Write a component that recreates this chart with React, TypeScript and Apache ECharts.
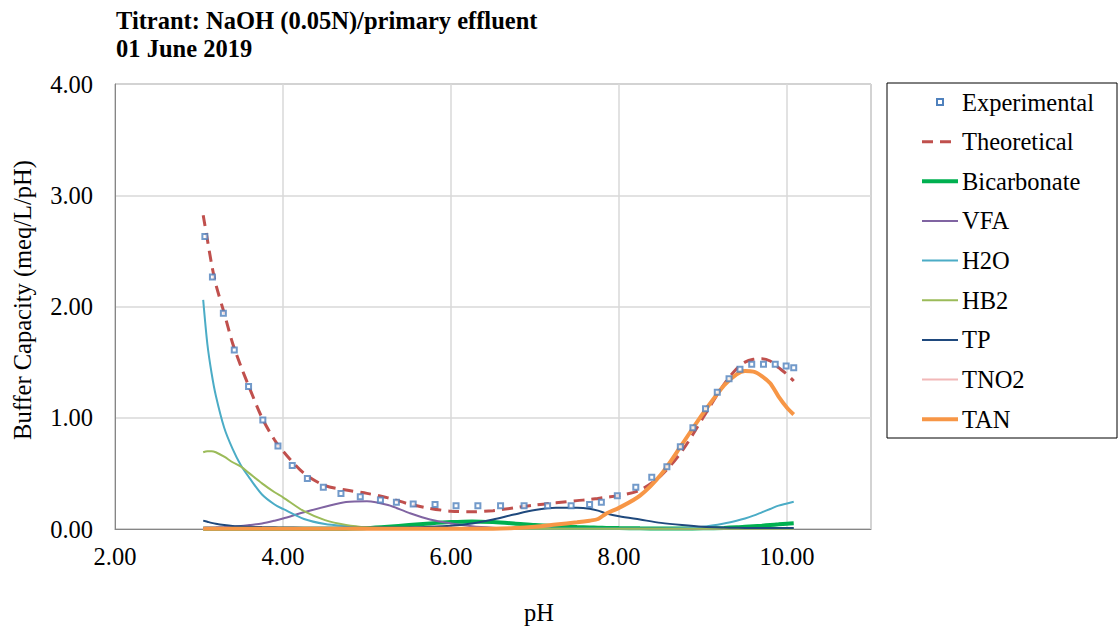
import React, { useEffect, useRef } from "react";
import * as echarts from "echarts";

const titleLines = ["Titrant: NaOH (0.05N)/primary effluent", "01 June 2019"];
const xTicks = [2, 4, 6, 8, 10];
const yTicks = [0, 1, 2, 3, 4];
const xAxisTitle = "pH";
const yAxisTitle = "Buffer Capacity (meq/L/pH)";

const expPH = [3.07, 3.16, 3.29, 3.42, 3.59, 3.76, 3.94, 4.11, 4.29, 4.48, 4.69, 4.92, 5.16, 5.35, 5.55, 5.81, 6.06, 6.32, 6.59, 6.87, 7.15, 7.43, 7.65, 7.79, 7.98, 8.2, 8.39, 8.57, 8.73, 8.88, 9.03, 9.17, 9.31, 9.44, 9.58, 9.72, 9.86, 9.99, 10.08];
const expBC = [2.63, 2.265, 1.94, 1.61, 1.28, 0.98, 0.745, 0.57, 0.455, 0.375, 0.32, 0.29, 0.26, 0.24, 0.225, 0.22, 0.21, 0.21, 0.21, 0.21, 0.21, 0.21, 0.22, 0.24, 0.3, 0.375, 0.465, 0.56, 0.74, 0.91, 1.08, 1.23, 1.35, 1.435, 1.48, 1.48, 1.48, 1.465, 1.45];

const curvePH = [3.05, 3.1, 3.15, 3.2, 3.3, 3.4, 3.5, 3.6, 3.75, 3.9, 4.0, 4.25, 4.5, 4.75, 5.0, 5.25, 5.5, 5.75, 6.0, 6.25, 6.5, 6.75, 7.0, 7.25, 7.5, 7.65, 7.75, 7.85, 8.0, 8.25, 8.5, 8.75, 9.0, 9.25, 9.4, 9.5, 9.6, 9.7, 9.8, 9.9, 10.0, 10.08];
const theoretical = [2.82, 2.6, 2.38, 2.2, 1.94, 1.67, 1.46, 1.27, 1.0, 0.8, 0.7, 0.5, 0.39, 0.35, 0.32, 0.28, 0.225, 0.185, 0.16, 0.155, 0.165, 0.19, 0.215, 0.235, 0.255, 0.265, 0.275, 0.285, 0.3, 0.35, 0.48, 0.7, 1.0, 1.3, 1.44, 1.5, 1.525, 1.53, 1.51, 1.45, 1.39, 1.33];
const bicarbonate = [0.002, 0.002, 0.002, 0.002, 0.002, 0.002, 0.002, 0.002, 0.002, 0.002, 0.002, 0.002, 0.002, 0.003, 0.008, 0.02, 0.035, 0.05, 0.062, 0.068, 0.062, 0.05, 0.035, 0.025, 0.017, 0.014, 0.012, 0.01, 0.008, 0.006, 0.005, 0.005, 0.006, 0.01, 0.015, 0.02, 0.025, 0.03, 0.036, 0.042, 0.048, 0.052];
const vfa = [0.012, 0.013, 0.014, 0.015, 0.018, 0.022, 0.026, 0.035, 0.05, 0.075, 0.095, 0.15, 0.2, 0.243, 0.25, 0.215, 0.145, 0.085, 0.05, 0.025, 0.012, 0.006, 0.003, 0.002, 0.002, 0.002, 0.002, 0.002, 0.002, 0.002, 0.002, 0.002, 0.002, 0.002, 0.002, 0.002, 0.002, 0.002, 0.002, 0.002, 0.002, 0.002];
const h2o = [2.06, 1.66, 1.4, 1.2, 0.91, 0.72, 0.57, 0.46, 0.31, 0.22, 0.18, 0.09, 0.045, 0.026, 0.012, 0.006, 0.003, 0.002, 0.002, 0.002, 0.002, 0.002, 0.002, 0.002, 0.002, 0.002, 0.002, 0.002, 0.002, 0.002, 0.002, 0.006, 0.02, 0.05, 0.075, 0.095, 0.12, 0.15, 0.18, 0.21, 0.23, 0.245];
const hb2 = [0.69, 0.7, 0.7, 0.69, 0.65, 0.6, 0.56, 0.5, 0.41, 0.33, 0.285, 0.16, 0.08, 0.037, 0.015, 0.008, 0.004, 0.002, 0.002, 0.002, 0.002, 0.002, 0.002, 0.002, 0.002, 0.002, 0.002, 0.002, 0.002, 0.002, 0.002, 0.002, 0.002, 0.002, 0.002, 0.002, 0.002, 0.002, 0.002, 0.002, 0.002, 0.002];
const tp = [0.075, 0.065, 0.055, 0.047, 0.036, 0.028, 0.024, 0.02, 0.017, 0.015, 0.014, 0.012, 0.011, 0.011, 0.012, 0.013, 0.015, 0.02, 0.03, 0.05, 0.085, 0.13, 0.17, 0.19, 0.19, 0.182, 0.165, 0.14, 0.115, 0.085, 0.055, 0.035, 0.02, 0.013, 0.011, 0.01, 0.01, 0.01, 0.01, 0.01, 0.01, 0.01];
const tno2 = [0.001, 0.001, 0.001, 0.001, 0.001, 0.001, 0.001, 0.001, 0.001, 0.001, 0.001, 0.001, 0.001, 0.001, 0.001, 0.001, 0.001, 0.001, 0.001, 0.001, 0.001, 0.001, 0.001, 0.001, 0.001, 0.001, 0.001, 0.001, 0.001, 0.001, 0.001, 0.001, 0.001, 0.001, 0.001, 0.001, 0.001, 0.001, 0.001, 0.001, 0.001, 0.001];
const tan = [0.003, 0.003, 0.003, 0.003, 0.003, 0.003, 0.003, 0.003, 0.003, 0.003, 0.003, 0.003, 0.003, 0.003, 0.003, 0.003, 0.003, 0.003, 0.003, 0.003, 0.003, 0.008, 0.02, 0.04, 0.06, 0.075, 0.09, 0.14, 0.19, 0.3, 0.49, 0.76, 1.04, 1.29, 1.39, 1.42, 1.415, 1.375, 1.31, 1.19, 1.09, 1.03];

const FONT = "'Liberation Serif', 'Times New Roman', serif";
const FS = 24.5;

type Spec = { name: string; color: string; width: number; dash?: number[]; marker?: boolean };
const specs: Spec[] = [
  { name: "Experimental", color: "#4f81bd", width: 2, marker: true },
  { name: "Theoretical", color: "#c0504d", width: 3, dash: [11, 7] },
  { name: "Bicarbonate", color: "#00b050", width: 4 },
  { name: "VFA", color: "#8064a2", width: 2 },
  { name: "H2O", color: "#4bacc6", width: 2 },
  { name: "HB2", color: "#9bbb59", width: 2 },
  { name: "TP", color: "#1f497d", width: 2 },
  { name: "TNO2", color: "#f2b8b8", width: 2 },
  { name: "TAN", color: "#f79646", width: 4 },
];

const pairs = (xs: number[], ys: number[]) => xs.map((x, i) => [x, ys[i]]);

export default function App() {
  const ref = useRef<HTMLDivElement>(null);
  useEffect(() => {
    if (!ref.current) return;
    const chart = echarts.init(ref.current, undefined, { renderer: "svg" });
    const spec = (n: string) => specs.find((s) => s.name === n)!;
    const line = (name: string, ys: number[], z: number) => {
      const s = spec(name);
      return {
        name,
        type: "line",
        data: pairs(curvePH, ys),
        smooth: 0.3,
        symbol: "none",
        z,
        lineStyle: { color: s.color, width: s.width, type: s.dash ? s.dash : "solid" },
        itemStyle: { color: s.color },
      };
    };

    const legendGraphics: any[] = [];
    specs.forEach((s, i) => {
      const y = 102 + i * 39.65;
      if (s.marker) {
        legendGraphics.push({
          type: "rect",
          shape: { x: 937, y: y - 3, width: 6, height: 6 },
          style: { fill: "#ffffff", stroke: s.color, lineWidth: 2 },
          silent: true,
        });
      } else {
        legendGraphics.push({
          type: "line",
          shape: { x1: 922, y1: y, x2: 958, y2: y },
          style: { stroke: s.color, lineWidth: s.width, lineDash: s.dash || null },
          silent: true,
        });
      }
      legendGraphics.push({
        type: "text",
        x: 962,
        y: y,
        style: { text: s.name, font: `${FS}px ${FONT}`, fill: "#000", textAlign: "left", textVerticalAlign: "middle" },
        silent: true,
      });
    });

    chart.setOption({
      animation: false,
      backgroundColor: "#ffffff",
      textStyle: { fontFamily: FONT },
      title: {
        text: titleLines.join("\n"),
        left: 111,
        top: 1,
        textStyle: { fontFamily: FONT, fontSize: FS, fontWeight: "bold", color: "#000", lineHeight: 28 },
      },
      grid: { left: 115, top: 84, right: 248, bottom: 101, show: true, borderColor: "#868686", borderWidth: 1, containLabel: false },
      xAxis: {
        type: "value",
        min: xTicks[0],
        max: 11,
        interval: 2,
        axisLine: { show: true, lineStyle: { color: "#868686" } },
        axisTick: { show: false },
        splitLine: { show: true, lineStyle: { color: "#d9d9d9", width: 1.5 } },
        axisLabel: { showMaxLabel: false, margin: 15, fontFamily: FONT, fontSize: FS, color: "#000", formatter: (v: number) => v.toFixed(2) },
      },
      yAxis: {
        type: "value",
        min: yTicks[0],
        max: yTicks[yTicks.length - 1],
        interval: 1,
        axisLine: { show: true, lineStyle: { color: "#868686" } },
        axisTick: { show: false },
        splitLine: { show: true, lineStyle: { color: "#d9d9d9", width: 1.5 } },
        axisLabel: { margin: 22, fontFamily: FONT, fontSize: FS, color: "#000", formatter: (v: number) => v.toFixed(2) },
      },
      graphic: [
        { type: "rect", shape: { x: 887, y: 83, width: 230, height: 355 }, style: { fill: "none", stroke: "#000", lineWidth: 1 }, silent: true },
        { type: "text", x: 539, y: 612, style: { text: xAxisTitle, font: `${FS}px ${FONT}`, fill: "#000", textAlign: "center", textVerticalAlign: "middle" } },
        { type: "text", x: 22, y: 300, rotation: Math.PI / 2, style: { text: yAxisTitle, font: `${FS}px ${FONT}`, fill: "#000", textAlign: "center", textVerticalAlign: "middle" } },
        ...legendGraphics,
      ],
      series: [
        line("Theoretical", theoretical, 3),
        line("Bicarbonate", bicarbonate, 4),
        line("TNO2", tno2, 4),
        line("VFA", vfa, 5),
        line("H2O", h2o, 5),
        line("HB2", hb2, 5),
        line("TP", tp, 5),
        line("TAN", tan, 6),
        {
          name: "Experimental",
          type: "scatter",
          data: pairs(expPH, expBC),
          symbol: "rect",
          symbolSize: 5,
          z: 10,
          itemStyle: { color: "#ffffff", borderColor: "#4f81bd", borderWidth: 2 },
        },
      ],
    });
    return () => chart.dispose();
  }, []);
  return <div ref={ref} style={{ width: 1119, height: 630, position: "absolute", left: 0, top: 0 }} />;
}
